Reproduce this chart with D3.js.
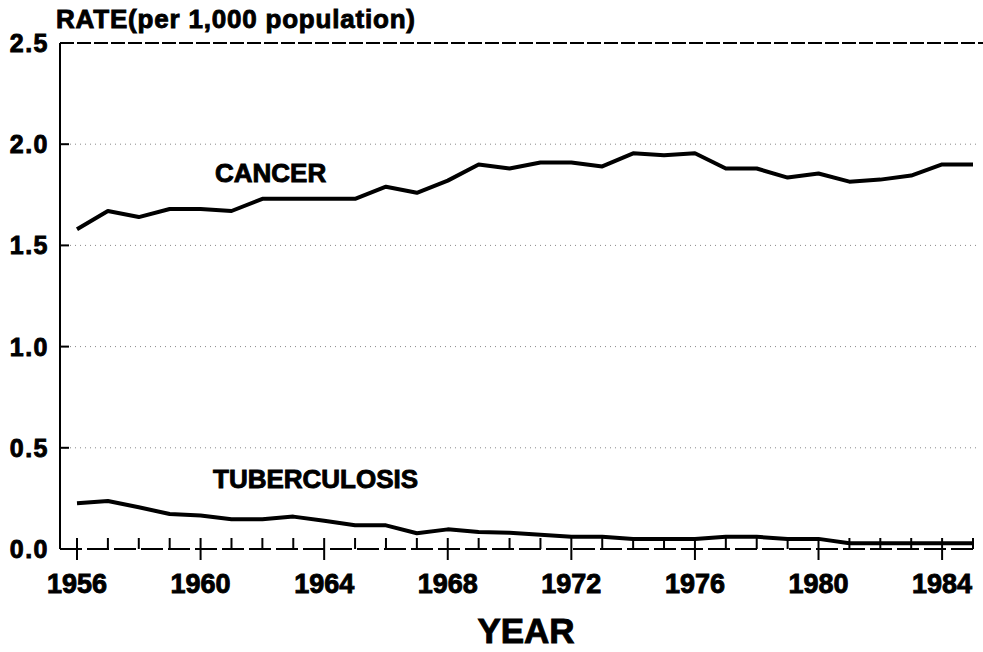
<!DOCTYPE html>
<html>
<head>
<meta charset="utf-8">
<script src="https://cdn.jsdelivr.net/npm/d3@7"></script>
<style>
  body { margin: 0; background: #fff; }
  text { font-family: "Liberation Sans", Arial, sans-serif; font-weight: bold; fill: #000;
         stroke: #000; stroke-width: 0.9px; }
</style>
</head>
<body>
<div id="chart"></div>
<script>
const years = d3.range(1956, 1986);
const cancer = [1.58, 1.67, 1.64, 1.68, 1.68, 1.67, 1.73, 1.73, 1.73, 1.73,
                1.79, 1.76, 1.82, 1.90, 1.88, 1.91, 1.91, 1.89, 1.955, 1.945,
                1.955, 1.88, 1.88, 1.835, 1.855, 1.815, 1.825, 1.845, 1.90, 1.90];
const tuberculosis = [0.226, 0.237, 0.206, 0.173, 0.165, 0.147, 0.147, 0.16, 0.14, 0.117,
                      0.117, 0.078, 0.097, 0.084, 0.08, 0.07, 0.06, 0.06, 0.05, 0.05,
                      0.05, 0.06, 0.06, 0.05, 0.05, 0.028, 0.028, 0.028, 0.028, 0.028];
const yTicks = [0, 0.5, 1.0, 1.5, 2.0, 2.5];
const yearLabels = [1956, 1960, 1964, 1968, 1972, 1976, 1980, 1984];

const W = 983, H = 652;
const svg = d3.select("#chart").append("svg")
    .attr("width", W)
    .attr("height", H);

const x = d3.scaleLinear().domain([1956, 1985]).range([77, 973]);
const y = d3.scaleLinear().domain([0, 2.5]).range([549, 43]);
const axisX = 60;

// dotted grid lines
svg.selectAll(".grid")
    .data(yTicks.filter(d => d > 0 && d < 2.5))
    .enter().append("line")
    .attr("x1", axisX).attr("x2", 980)
    .attr("y1", d => y(d)).attr("y2", d => y(d))
    .attr("stroke", "#888")
    .attr("stroke-width", 1)
    .attr("stroke-dasharray", "1,4");

// dashed top border at 2.5
svg.append("line")
    .attr("x1", axisX).attr("x2", W)
    .attr("y1", y(2.5)).attr("y2", y(2.5))
    .attr("stroke", "#000")
    .attr("stroke-width", 2)
    .attr("stroke-dasharray", "14,3");

// y axis line and ticks
svg.append("line")
    .attr("x1", axisX).attr("x2", axisX)
    .attr("y1", y(2.5)).attr("y2", y(0))
    .attr("stroke", "#000")
    .attr("stroke-width", 2);

svg.selectAll(".ytick")
    .data(yTicks)
    .enter().append("line")
    .attr("x1", axisX).attr("x2", axisX + 9)
    .attr("y1", d => y(d)).attr("y2", d => y(d))
    .attr("stroke", "#000")
    .attr("stroke-width", 2);

svg.selectAll(".ylabel")
    .data(yTicks)
    .enter().append("text")
    .attr("x", 49)
    .attr("y", d => y(d) + 9)
    .attr("text-anchor", "end")
    .style("font-size", "25px")
    .style("letter-spacing", "1.5px")
    .text(d => d.toFixed(1));

// x axis (broken baseline)
svg.append("line")
    .attr("x1", axisX).attr("x2", x(1985))
    .attr("y1", y(0)).attr("y2", y(0))
    .attr("stroke", "#000")
    .attr("stroke-width", 2)
    .attr("stroke-dasharray", "22,5");

svg.selectAll(".xtick")
    .data(years)
    .enter().append("line")
    .attr("x1", d => x(d)).attr("x2", d => x(d))
    .attr("y1", y(0) - 11)
    .attr("y2", d => (d - 1956) % 4 === 0 ? y(0) + 11 : y(0))
    .attr("stroke", "#000")
    .attr("stroke-width", 2);

svg.selectAll(".xlabel")
    .data(yearLabels)
    .enter().append("text")
    .attr("x", d => x(d))
    .attr("y", 593)
    .attr("text-anchor", "middle")
    .style("font-size", "27px")
    .text(d => d);

// series lines
const line = d3.line()
    .x((d, i) => x(years[i]))
    .y(d => y(d));

svg.append("path")
    .datum(cancer)
    .attr("d", line)
    .attr("fill", "none")
    .attr("stroke", "#000")
    .attr("stroke-width", 4)
    .attr("stroke-linejoin", "round");

svg.append("path")
    .datum(tuberculosis)
    .attr("d", line)
    .attr("fill", "none")
    .attr("stroke", "#000")
    .attr("stroke-width", 4)
    .attr("stroke-linejoin", "round");

// labels
svg.append("text")
    .attr("x", 56).attr("y", 28)
    .style("font-size", "26px")
    .style("letter-spacing", "0.8px")
    .text("RATE(per 1,000 population)");

svg.append("text")
    .attr("x", 215).attr("y", 182)
    .style("font-size", "26px")
    .text("CANCER");

svg.append("text")
    .attr("x", 213).attr("y", 488)
    .style("font-size", "26px")
    .text("TUBERCULOSIS");

svg.append("text")
    .attr("x", 526).attr("y", 643)
    .attr("text-anchor", "middle")
    .style("font-size", "35px")
    .text("YEAR");
</script>
</body>
</html>
